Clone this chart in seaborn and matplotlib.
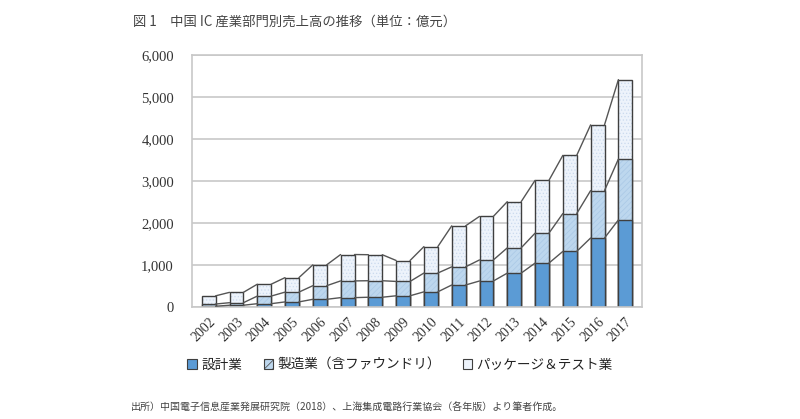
import numpy as np
import pandas as pd
import seaborn as sns
import matplotlib.pyplot as plt
from matplotlib.patches import Patch

years = [str(y) for y in range(2002, 2018)]
design = [21.6, 44.9, 81.8, 124.3, 186.2, 225.7, 235.2, 269.9, 363.9, 526.4,
          621.7, 808.8, 1047.4, 1325.0, 1644.3, 2073.5]
manufacturing = [52.1, 60.3, 180.6, 232.9, 323.5, 397.9, 392.7, 341.1, 447.1, 431.6,
                 501.1, 600.9, 712.1, 900.8, 1126.9, 1448.1]
packaging = [194.7, 246.1, 282.6, 344.9, 496.6, 627.7, 618.9, 498.1, 629.2, 975.7,
             1035.7, 1098.8, 1255.9, 1384.0, 1564.3, 1889.7]
labels = ["設計業", "製造業（含ファウンドリ）", "パッケージ＆テスト業"]

df = pd.DataFrame({"year": years, "design": design,
                   "manufacturing": manufacturing, "packaging": packaging})
df["lvl1"] = df["design"]
df["lvl2"] = df["design"] + df["manufacturing"]
df["lvl3"] = df["lvl2"] + df["packaging"]

sns.set_style("white")
plt.rcParams["font.family"] = ["Noto Sans CJK JP", "DejaVu Sans"]
plt.rcParams["hatch.linewidth"] = 0.5

fig = plt.figure(figsize=(8, 4.19), dpi=100)
ax = fig.add_axes([0.24, 0.267, 0.5625, 0.602])

colors = ["#5b9bd5", "#bdd7ee", "#edf3fb"]
hatch_cols = ["#5b9bd5", "#a9c8e6", "#cbdaee"]
hatches = ["", "//////", "....."]
edge = "#3f3f3f"
bw = 0.5

# back to front: total, design+manufacturing, design
for col, fc, hc, h in zip(["lvl3", "lvl2", "lvl1"], colors[::-1], hatch_cols[::-1], hatches[::-1]):
    sns.barplot(data=df, x="year", y=col, color=fc, saturation=1, width=bw,
                edgecolor=hc, hatch=h, linewidth=0, errorbar=None, ax=ax)
    sns.barplot(data=df, x="year", y=col, fill=False, width=bw,
                edgecolor=edge, linewidth=1.0, errorbar=None, ax=ax)

# series lines between bars
xs = np.arange(len(years))
for col in ["lvl1", "lvl2", "lvl3"]:
    v = df[col].values
    for i in range(len(xs) - 1):
        ax.plot([xs[i] + bw / 2, xs[i + 1] - bw / 2], [v[i], v[i + 1]],
                color="#555555", lw=1.0, zorder=3)

ax.set_ylim(0, 6000)
ax.set_xlim(-0.6, len(years) - 0.4)
ax.set_yticks(range(0, 6001, 1000))
ax.set_yticklabels([f"{t:,}" for t in range(0, 6001, 1000)],
                   family="Liberation Serif", fontsize=10.5, color="#333333")
ax.set_xticks(xs)
ax.set_xticklabels(years, rotation=45, ha="right", rotation_mode="anchor",
                   family="Liberation Serif", fontsize=10, color="#333333")
ax.tick_params(axis="x", length=0, pad=6)
ax.tick_params(axis="y", length=0, pad=13)
ax.set_xlabel("")
ax.set_ylabel("")
ax.yaxis.grid(True, color="#c8c8c8", lw=1.2)
ax.set_axisbelow(True)
for s in ax.spines.values():
    s.set_color("#c8c8c8")
    s.set_linewidth(1.2)

handles = [Patch(facecolor=colors[0], edgecolor=edge, lw=0.8),
           Patch(facecolor=colors[1], edgecolor=edge, hatch="////", lw=0.8),
           Patch(facecolor=colors[2], edgecolor=edge, lw=0.8)]
fig.legend(handles, labels, loc="center", bbox_to_anchor=(0.5, 0.13), ncol=3,
           frameon=False, fontsize=9.8, handlelength=0.7, handleheight=0.7,
           handletextpad=0.3, columnspacing=1.6, labelcolor="#222222")

fig.text(0.166, 0.947, "図 1　中国 IC 産業部門別売上高の推移（単位：億元）",
         fontsize=9.6, color="#444444", va="center", ha="left")
fig.text(0.163, 0.027, "出所）中国電子信息産業発展研究院（2018）、上海集成電路行業協会（各年版）より筆者作成。",
         fontsize=7.2, color="#444444", va="center", ha="left")

fig.savefig("out.png", dpi=100, facecolor="white")
